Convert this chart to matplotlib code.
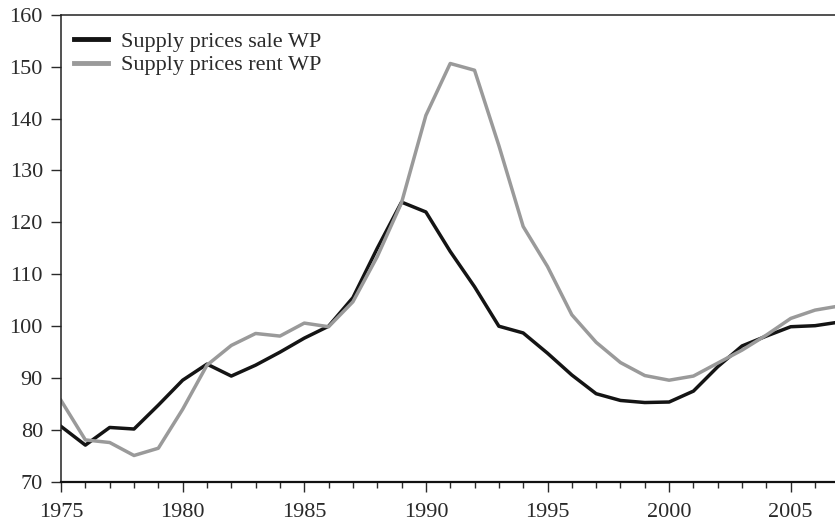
import numpy as np
import matplotlib.pyplot as plt
from matplotlib.ticker import MultipleLocator

years = list(range(1975, 2008))

sale = [80.7, 77.1, 80.5, 80.2, 84.8, 89.6, 92.7, 90.4, 92.5, 95.0,
        97.7, 100.0, 105.5, 115.0, 123.9, 122.0, 114.4, 107.6, 100.0, 98.7,
        94.8, 90.6, 87.0, 85.7, 85.3, 85.4, 87.5, 92.2, 96.2, 98.1,
        99.9, 100.1, 100.8]

rent = [85.7, 78.1, 77.6, 75.1, 76.5, 84.0, 92.5, 96.3, 98.6, 98.1,
        100.6, 99.9, 104.7, 113.4, 123.8, 140.6, 150.6, 149.3, 134.8, 119.2,
        111.5, 102.2, 96.9, 93.0, 90.5, 89.6, 90.4, 92.9, 95.4, 98.3,
        101.5, 103.1, 103.9]

plt.rcParams['font.family'] = ['Liberation Serif', 'DejaVu Serif']

fig = plt.figure(figsize=(8.35, 5.24), dpi=100)
ax = fig.add_axes([0.0731, 0.0802, 0.9269, 0.8918])

ax.plot(years, sale, color='#141414', lw=2.5, label='Supply prices sale WP')
ax.plot(years, rent, color='#9a9a9a', lw=2.5, label='Supply prices rent WP')

ax.set_xlim(1975, 2006.82)
ax.set_ylim(70, 160)
ax.xaxis.set_major_locator(MultipleLocator(5))
ax.xaxis.set_minor_locator(MultipleLocator(1))
ax.yaxis.set_major_locator(MultipleLocator(10))

ax.spines['right'].set_visible(False)
for s in ['left', 'top']:
    ax.spines[s].set_linewidth(1.1)
    ax.spines[s].set_color('#222222')
ax.spines['bottom'].set_linewidth(1.6)
ax.spines['bottom'].set_color('#111111')

ax.tick_params(axis='y', direction='out', length=7, width=1, pad=6,
               labelsize=16, colors='#2a2a2a')
ax.tick_params(axis='x', which='major', direction='out', length=7, width=1,
               pad=8, labelsize=16, colors='#2a2a2a')
ax.tick_params(axis='x', which='minor', direction='out', length=4.3, width=1,
               colors='#2a2a2a')

leg = ax.legend(loc='upper left', frameon=False, fontsize=16,
                handlelength=1.5, handletextpad=0.6, labelspacing=0.12,
                borderaxespad=0.3, bbox_to_anchor=(-0.003, 0.997))
for line in leg.get_lines():
    line.set_linewidth(3.5)
for t in leg.get_texts():
    t.set_color('#2a2a2a')

plt.savefig('out.png', dpi=100)
